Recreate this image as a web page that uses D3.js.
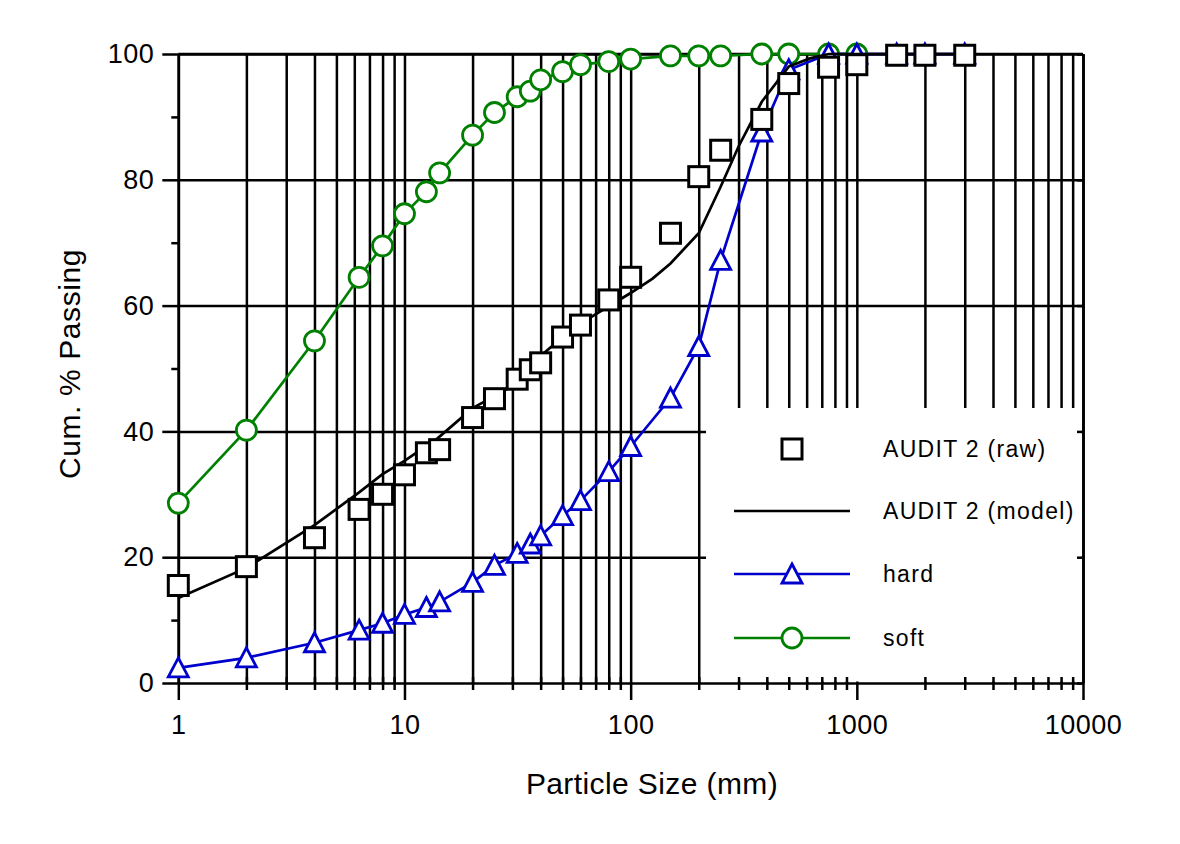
<!DOCTYPE html>
<html>
  <head>
    <meta charset="utf-8">
    <title>Cum. % Passing vs Particle Size</title>
    <script src="https://d3js.org/d3.v7.min.js"></script>
    <style>
      body { margin: 0; background: #fff; }
      text { font-family: "Liberation Sans", Arial, sans-serif; fill: #000; }
    </style>
  </head>
  <body>
    <svg id="chart"></svg>
    <script>
// sieve sizes (mm) and cumulative % passing
var rawSizes = [1, 2, 4, 6.3, 8, 10, 12.5, 14.3, 20, 25, 31.5, 36, 40, 50, 60, 80, 100, 150, 200, 250, 380, 500, 750, 1000, 1500, 2000, 3000];
var rawPass  = [15.5, 18.5, 23.1, 27.6, 30.0, 33.1, 36.6, 37.1, 42.2, 45.2, 48.3, 49.8, 50.9, 55.0, 56.9, 60.9, 64.5, 71.5, 80.5, 84.7, 89.6, 95.3, 97.9, 98.3, 99.8, 99.8, 99.8];

var modelSizes = [1, 2, 4, 6.3, 8, 10, 12.5, 14, 20, 25, 31.5, 40, 50, 63, 80, 100, 125, 150, 200, 250, 300, 380, 500, 620, 750, 1000, 1500, 2000, 3000];
var modelPass  = [13.5, 18.3, 25.1, 30.3, 33.2, 35.3, 37.7, 38.9, 43.7, 45.6, 47.6, 52.0, 55.0, 57.6, 59.9, 62.0, 64.3, 66.7, 71.5, 78.9, 85.3, 92.4, 98.0, 99.3, 100, 100, 100, 100, 100];

var hardSizes = [1, 2, 4, 6.3, 8, 10, 12.5, 14.3, 20, 25, 31.5, 36, 40, 50, 60, 80, 100, 150, 200, 250, 380, 500, 750, 1000, 1500, 2000, 3000];
var hardPass  = [2.4, 4.0, 6.4, 8.4, 9.5, 10.9, 12.0, 12.9, 16.0, 18.7, 20.6, 22.1, 23.4, 26.6, 29.0, 33.6, 37.6, 45.3, 53.5, 67.2, 87.6, 97.5, 100, 100, 100, 100, 100];

var softSizes = [1, 2, 4, 6.3, 8, 10, 12.5, 14.3, 20, 25, 31.5, 36, 40, 50, 60, 80, 100, 150, 200, 250, 380, 500, 750, 1000];
var softPass  = [28.6, 40.2, 54.4, 64.5, 69.5, 74.6, 78.1, 81.1, 87.1, 90.7, 93.2, 94.1, 95.9, 97.2, 98.3, 98.8, 99.2, 99.7, 99.7, 99.7, 100, 100, 100, 100];

var xMajor = [1, 10, 100, 1000, 10000];
var yMajor = [0, 20, 40, 60, 80, 100];
var yMinor = [10, 30, 50, 70, 90];
var legendLabels = ["AUDIT 2 (raw)", "AUDIT 2 (model)", "hard", "soft"];

var W = 1180, H = 844;
var plotL = 178.3, plotR = 1083, plotT = 54, plotB = 683;

var svg = d3.select("#chart").attr("width", W).attr("height", H);

var x = d3.scaleLog().domain([1, 10000]).range([plotL, plotR]);
var y = d3.scaleLinear().domain([0, 100]).range([plotB, plotT]);

// every 1..9 x decade
var xAll = [];
for (var e = 0; e < 4; e++) {
  for (var m = 1; m < 10; m++) xAll.push(m * Math.pow(10, e));
}
xAll.push(10000);
var xMinor = xAll.filter(function(v) { return xMajor.indexOf(v) < 0; });

function zip(a, b) { return a.map(function(v, i) { return [v, b[i]]; }); }

// gridlines
var gridX = svg.append("g")
  .attr("transform", "translate(0," + plotB + ")")
  .call(d3.axisBottom(x).tickValues(xAll).tickSize(-(plotB - plotT)).tickFormat(""));
var gridY = svg.append("g")
  .attr("transform", "translate(" + plotL + ",0)")
  .call(d3.axisLeft(y).tickValues([20, 40, 60, 80, 100]).tickSize(-(plotR - plotL)).tickFormat(""));
svg.selectAll(".domain").remove();
[gridX, gridY].forEach(function(g) {
  g.selectAll("line").attr("stroke", "#000").attr("stroke-width", 2.5);
});

// legend panel blanks out the grid
svg.append("rect")
  .attr("x", 706).attr("y", 408)
  .attr("width", plotR - 706 - 1.5).attr("height", plotB - 408 - 1.5)
  .attr("fill", "#fff");

// axes
function styleAxis(g) {
  g.select(".domain").attr("stroke", "#000").attr("stroke-width", 2.7);
  g.selectAll(".tick line").attr("stroke", "#000").attr("stroke-width", 2.5);
  g.selectAll("text").style("font-size", "27px").style("letter-spacing", "0.5px").attr("fill", "#000");
}

svg.append("g")
  .attr("transform", "translate(0," + plotB + ")")
  .call(d3.axisBottom(x).tickValues(xMajor).tickSize(17).tickSizeOuter(0).tickPadding(15).tickFormat(d3.format("d")))
  .call(styleAxis);
svg.append("g")
  .attr("transform", "translate(0," + (plotB - 6) + ")")
  .call(d3.axisBottom(x).tickValues(xMinor).tickSize(13).tickFormat(""))
  .call(function(g) { g.select(".domain").remove(); })
  .call(styleAxis);

svg.append("g")
  .attr("transform", "translate(" + plotL + ",0)")
  .call(d3.axisLeft(y).tickValues(yMajor).tickSize(16).tickSizeOuter(0).tickPadding(8))
  .call(styleAxis);
svg.append("g")
  .attr("transform", "translate(" + plotL + ",0)")
  .call(d3.axisLeft(y).tickValues(yMinor).tickSize(7).tickFormat(""))
  .call(function(g) { g.select(".domain").remove(); })
  .call(styleAxis);

svg.append("g")
  .attr("transform", "translate(" + plotR + ",0)")
  .call(d3.axisLeft(y).tickValues(yMajor).tickSize(6).tickSizeOuter(0).tickFormat(""))
  .call(styleAxis);

svg.append("line")
  .attr("x1", plotL).attr("x2", plotR).attr("y1", plotT).attr("y2", plotT)
  .attr("stroke", "#000").attr("stroke-width", 2.7);

// axis titles
svg.append("text")
  .attr("x", 652).attr("y", 794)
  .attr("text-anchor", "middle")
  .style("font-size", "30px")
  .style("letter-spacing", "0.4px")
  .text("Particle Size (mm)");

svg.append("text")
  .attr("transform", "translate(80,364) rotate(-90)")
  .attr("text-anchor", "middle")
  .style("font-size", "30px")
  .style("letter-spacing", "0.6px")
  .text("Cum. % Passing");

// series
var line = d3.line().x(function(d) { return x(d[0]); }).y(function(d) { return y(d[1]); });
var BLUE = "#0000cc", GREEN = "#008000";

function triPath(cx, cy) {
  return "M" + cx + "," + (cy - 10) + "L" + (cx + 10) + "," + (cy + 9) + "L" + (cx - 10) + "," + (cy + 9) + "Z";
}

var softData = zip(softSizes, softPass);
svg.append("path").datum(softData).attr("d", line)
  .attr("fill", "none").attr("stroke", GREEN).attr("stroke-width", 2.7);
svg.selectAll(".soft").data(softData).enter().append("circle")
  .attr("class", "soft")
  .attr("cx", function(d) { return x(d[0]); })
  .attr("cy", function(d) { return y(d[1]); })
  .attr("r", 10)
  .attr("fill", "#fff").attr("stroke", GREEN).attr("stroke-width", 2.8);

var hardData = zip(hardSizes, hardPass);
svg.append("path").datum(hardData).attr("d", line)
  .attr("fill", "none").attr("stroke", BLUE).attr("stroke-width", 2.7);
svg.selectAll(".hard").data(hardData).enter().append("path")
  .attr("class", "hard")
  .attr("d", function(d) { return triPath(x(d[0]), y(d[1])); })
  .attr("fill", "#fff").attr("stroke", BLUE).attr("stroke-width", 2.8);

svg.append("path").datum(zip(modelSizes, modelPass)).attr("d", line)
  .attr("fill", "none").attr("stroke", "#000").attr("stroke-width", 2.7);

svg.selectAll(".raw").data(zip(rawSizes, rawPass)).enter().append("rect")
  .attr("class", "raw")
  .attr("x", function(d) { return x(d[0]) - 10; })
  .attr("y", function(d) { return y(d[1]) - 10; })
  .attr("width", 20).attr("height", 20)
  .attr("fill", "#fff").attr("stroke", "#000").attr("stroke-width", 3);

// legend
var legY = [449, 511, 574, 638];
var lx = 792, textX = 883;
svg.append("rect").attr("x", lx - 10).attr("y", legY[0] - 10).attr("width", 20).attr("height", 20)
  .attr("fill", "#fff").attr("stroke", "#000").attr("stroke-width", 3);
svg.append("line").attr("x1", 734).attr("x2", 850).attr("y1", legY[1]).attr("y2", legY[1])
  .attr("stroke", "#000").attr("stroke-width", 2.7);
svg.append("line").attr("x1", 734).attr("x2", 850).attr("y1", legY[2]).attr("y2", legY[2])
  .attr("stroke", BLUE).attr("stroke-width", 2.7);
svg.append("path").attr("d", triPath(lx, legY[2]))
  .attr("fill", "#fff").attr("stroke", BLUE).attr("stroke-width", 2.8);
svg.append("line").attr("x1", 734).attr("x2", 850).attr("y1", legY[3]).attr("y2", legY[3])
  .attr("stroke", GREEN).attr("stroke-width", 2.7);
svg.append("circle").attr("cx", lx).attr("cy", legY[3]).attr("r", 10)
  .attr("fill", "#fff").attr("stroke", GREEN).attr("stroke-width", 2.8);

svg.selectAll(".legtext").data(legendLabels).enter().append("text")
  .attr("class", "legtext")
  .attr("x", textX)
  .attr("y", function(d, i) { return legY[i] + 8; })
  .style("font-size", "23px")
  .style("letter-spacing", "1.3px")
  .text(function(d) { return d; });
    </script>
  </body>
</html>
